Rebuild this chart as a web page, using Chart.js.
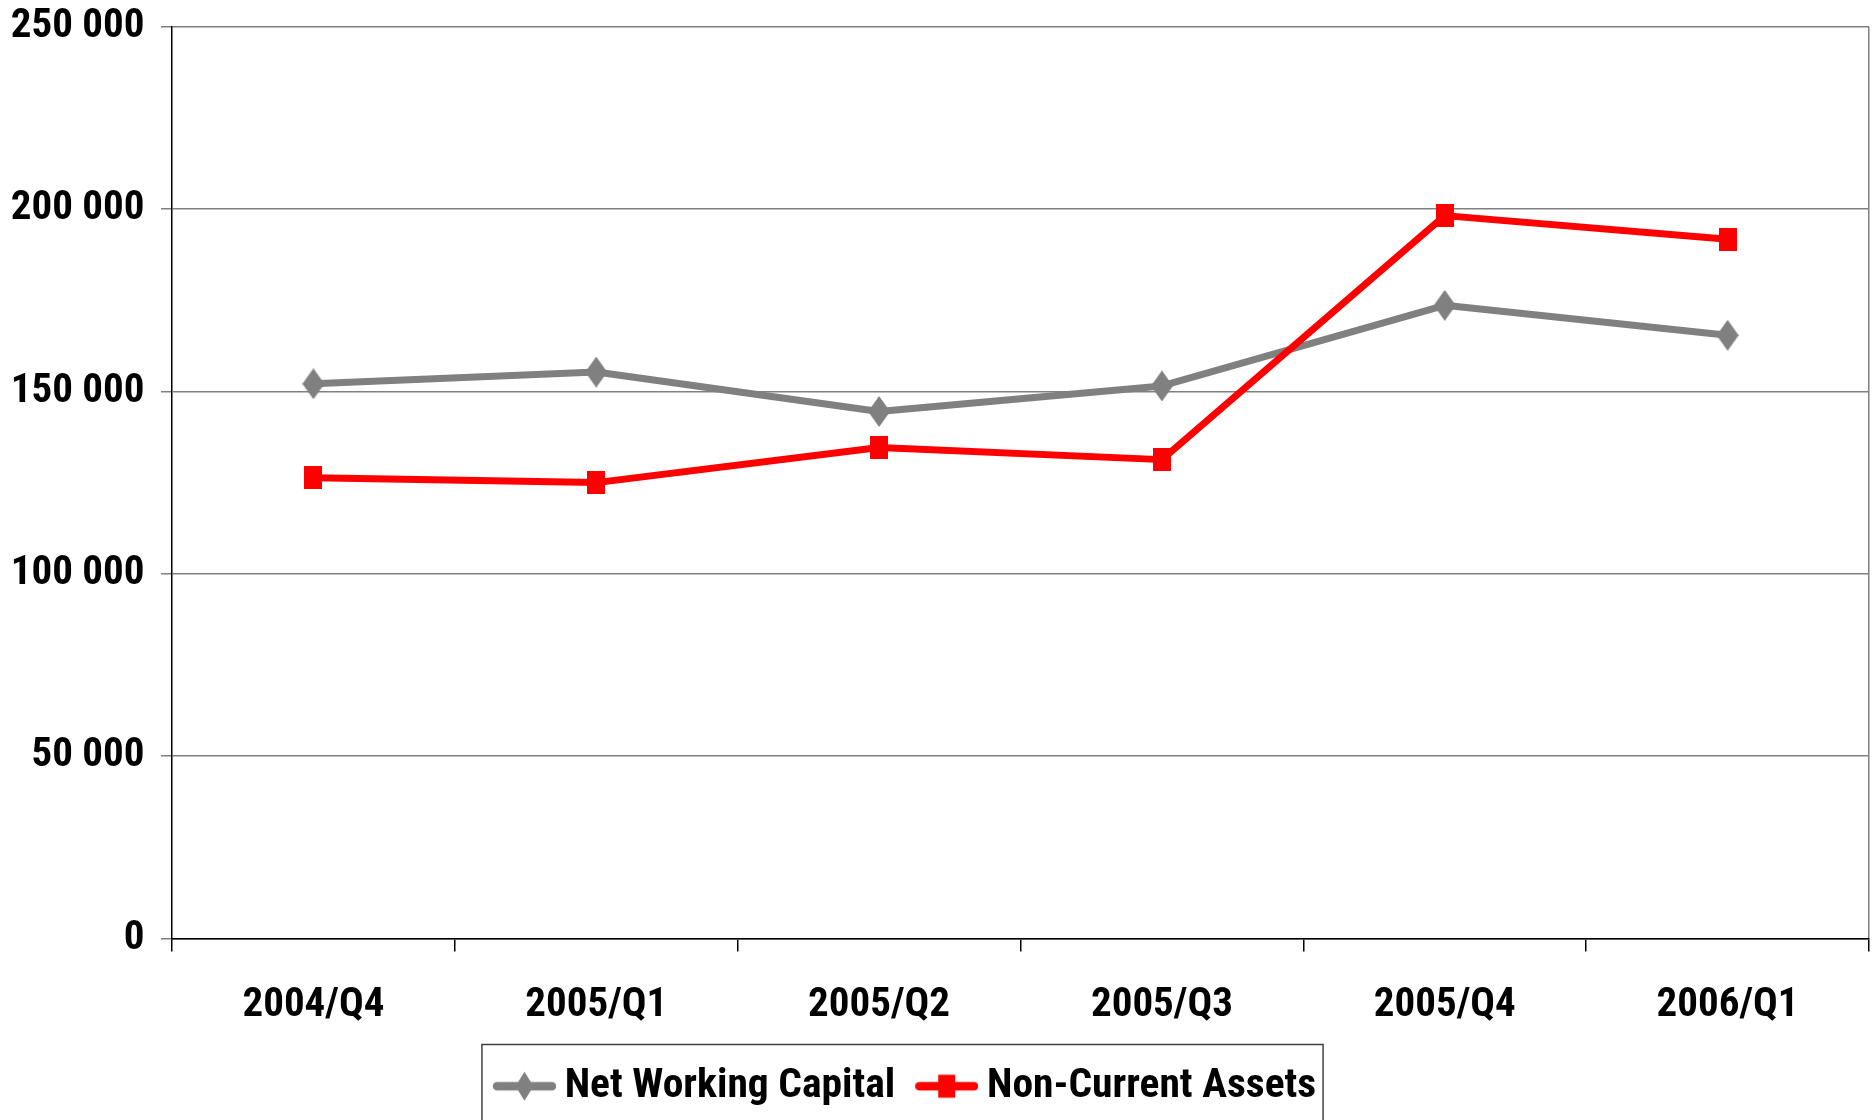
<!DOCTYPE html>
<html><head><meta charset="utf-8">
<script src="https://cdn.jsdelivr.net/npm/chart.js@4.4.1/dist/chart.umd.min.js"></script>
<style>html,body{margin:0;padding:0;background:#fff;}canvas{display:block;}</style>
</head><body>
<canvas id="c" width="1875" height="1120"></canvas>
<script>
const categories = ['2004/Q4', '2005/Q1', '2005/Q2', '2005/Q3', '2005/Q4', '2006/Q1'];
const seriesNames = ['Net Working Capital', 'Non-Current Assets'];
const netWorkingCapital = [152100, 155300, 144500, 151500, 173600, 165400];
const nonCurrentAssets = [126300, 125000, 134600, 131300, 198200, 191700];
const yTickValues = [0, 50000, 100000, 150000, 200000, 250000];
const yTickLabels = ['0', '50 000', '100 000', '150 000', '200 000', '250 000'];

const GRAY = '#808080';
const RED = '#FF0000';
const FAMILY = "'Roboto Condensed', 'Liberation Sans Narrow', sans-serif";
const FONT = { family: FAMILY, size: 41, weight: 'bold' };
const LEGEND_FONT = { family: FAMILY, size: 41.5, weight: 'bold' };
const Y_FONT = { family: FAMILY, size: 41, weight: 'bold', lineHeight: 0.4 };

function drawShape(g, shape, cx, cy, w, h, color) {
  g.fillStyle = color;
  g.beginPath();
  if (shape === 'diamond') {
    g.moveTo(cx, cy - h / 2); g.lineTo(cx + w / 2, cy); g.lineTo(cx, cy + h / 2); g.lineTo(cx - w / 2, cy);
  } else {
    g.rect(cx - w / 2, cy - h / 2, w, h);
  }
  g.closePath();
  g.fill();
}
function makeMarker(shape, w, h, color) {
  const cv = document.createElement('canvas');
  cv.width = w; cv.height = h;
  drawShape(cv.getContext('2d'), shape, w / 2, h / 2, w, h, color);
  return cv;
}
// legend sample: 63px line+marker placed at the right part of an 83px wide image
function makeLegendSample(shape, w, h, color) {
  const cv = document.createElement('canvas');
  cv.width = 83; cv.height = 34;
  const g = cv.getContext('2d');
  g.strokeStyle = color; g.lineWidth = 8.5; g.lineCap = 'round';
  g.beginPath(); g.moveTo(24, 17); g.lineTo(79, 17); g.stroke();
  drawShape(g, shape, 51.5, 17, w, h, color);
  return cv;
}
const diamondMarker = makeMarker('diamond', 22, 31, GRAY);
const squareMarker = makeMarker('square', 18, 23, RED);
const legendSamples = [makeLegendSample('diamond', 18, 29, GRAY), makeLegendSample('square', 17, 23, RED)];

const legendPlacement = {
  id: 'legendPlacement',
  afterLayout(chart) {
    const lg = chart.legend;
    if (!lg) return;
    lg.left -= 34; lg.right -= 34;
  },
  afterDraw(chart) {
    const lg = chart.legend;
    const hb = lg && lg.legendHitBoxes;
    if (!hb || hb.length < 2) return;
    const c = chart.ctx;
    const left = hb[0].left - 3;
    const right = hb[1].left + hb[1].width + 7;
    const top = lg.top - 9;
    c.save();
    c.strokeStyle = '#404040';
    c.lineWidth = 1.5;
    c.strokeRect(left, top, right - left, chart.height - top + 20);
    c.restore();
  }
};

new Chart(document.getElementById('c'), {
  type: 'line',
  data: {
    labels: categories,
    datasets: [
      { label: seriesNames[0], data: netWorkingCapital, borderColor: GRAY, backgroundColor: GRAY,
        borderWidth: 7, borderJoinStyle: 'round', borderCapStyle: 'round', tension: 0,
        pointStyle: diamondMarker, pointRadius: 1, pointHoverRadius: 0, pointBorderWidth: 0, order: 2 },
      { label: seriesNames[1], data: nonCurrentAssets, borderColor: RED, backgroundColor: RED,
        borderWidth: 7, borderJoinStyle: 'round', borderCapStyle: 'round', tension: 0,
        pointStyle: squareMarker, pointRadius: 1, pointHoverRadius: 0, pointBorderWidth: 0, order: 1 }
    ]
  },
  options: {
    responsive: false,
    animation: false,
    devicePixelRatio: 1,
    layout: { autoPadding: false, padding: { left: 0, right: 6, top: 26.7, bottom: 3 } },
    plugins: {
      tooltip: { enabled: false },
      legend: {
        position: 'bottom',
        align: 'center',
        labels: {
          usePointStyle: true,
          pointStyleWidth: 59,
          padding: 12,
          font: LEGEND_FONT,
          color: '#000',
          sort: (a, b) => a.datasetIndex - b.datasetIndex,
          generateLabels: chart => {
            const items = Chart.defaults.plugins.legend.labels.generateLabels(chart);
            items.forEach(it => { it.pointStyle = legendSamples[it.datasetIndex]; });
            return items;
          }
        }
      }
    },
    scales: {
      x: {
        offset: true,
        grid: {
          offset: true,
          drawOnChartArea: true,
          color: c => (c.type === 'tick' ? 'rgba(0,0,0,0)' : GRAY),
          tickColor: '#000',
          lineWidth: 1.5,
          tickWidth: 1.5,
          tickLength: 13
        },
        border: { color: '#000', width: 1.5 },
        ticks: { font: FONT, color: '#000', padding: 29.5, maxRotation: 0, autoSkip: false },
        afterFit: s => { s.height = 115; }
      },
      y: {
        min: 0,
        max: 250000,
        afterBuildTicks: s => { s.ticks = yTickValues.map(v => ({ value: v })); },
        ticks: { font: Y_FONT, color: '#000', padding: 16.5,
                 callback: v => yTickLabels[yTickValues.indexOf(v)] },
        grid: { color: GRAY, lineWidth: 1.5, tickLength: 11 },
        border: { color: '#000', width: 1.5 },
        afterFit: s => { s.width = 172; }
      }
    }
  },
  plugins: [legendPlacement]
});
</script>
</body></html>
